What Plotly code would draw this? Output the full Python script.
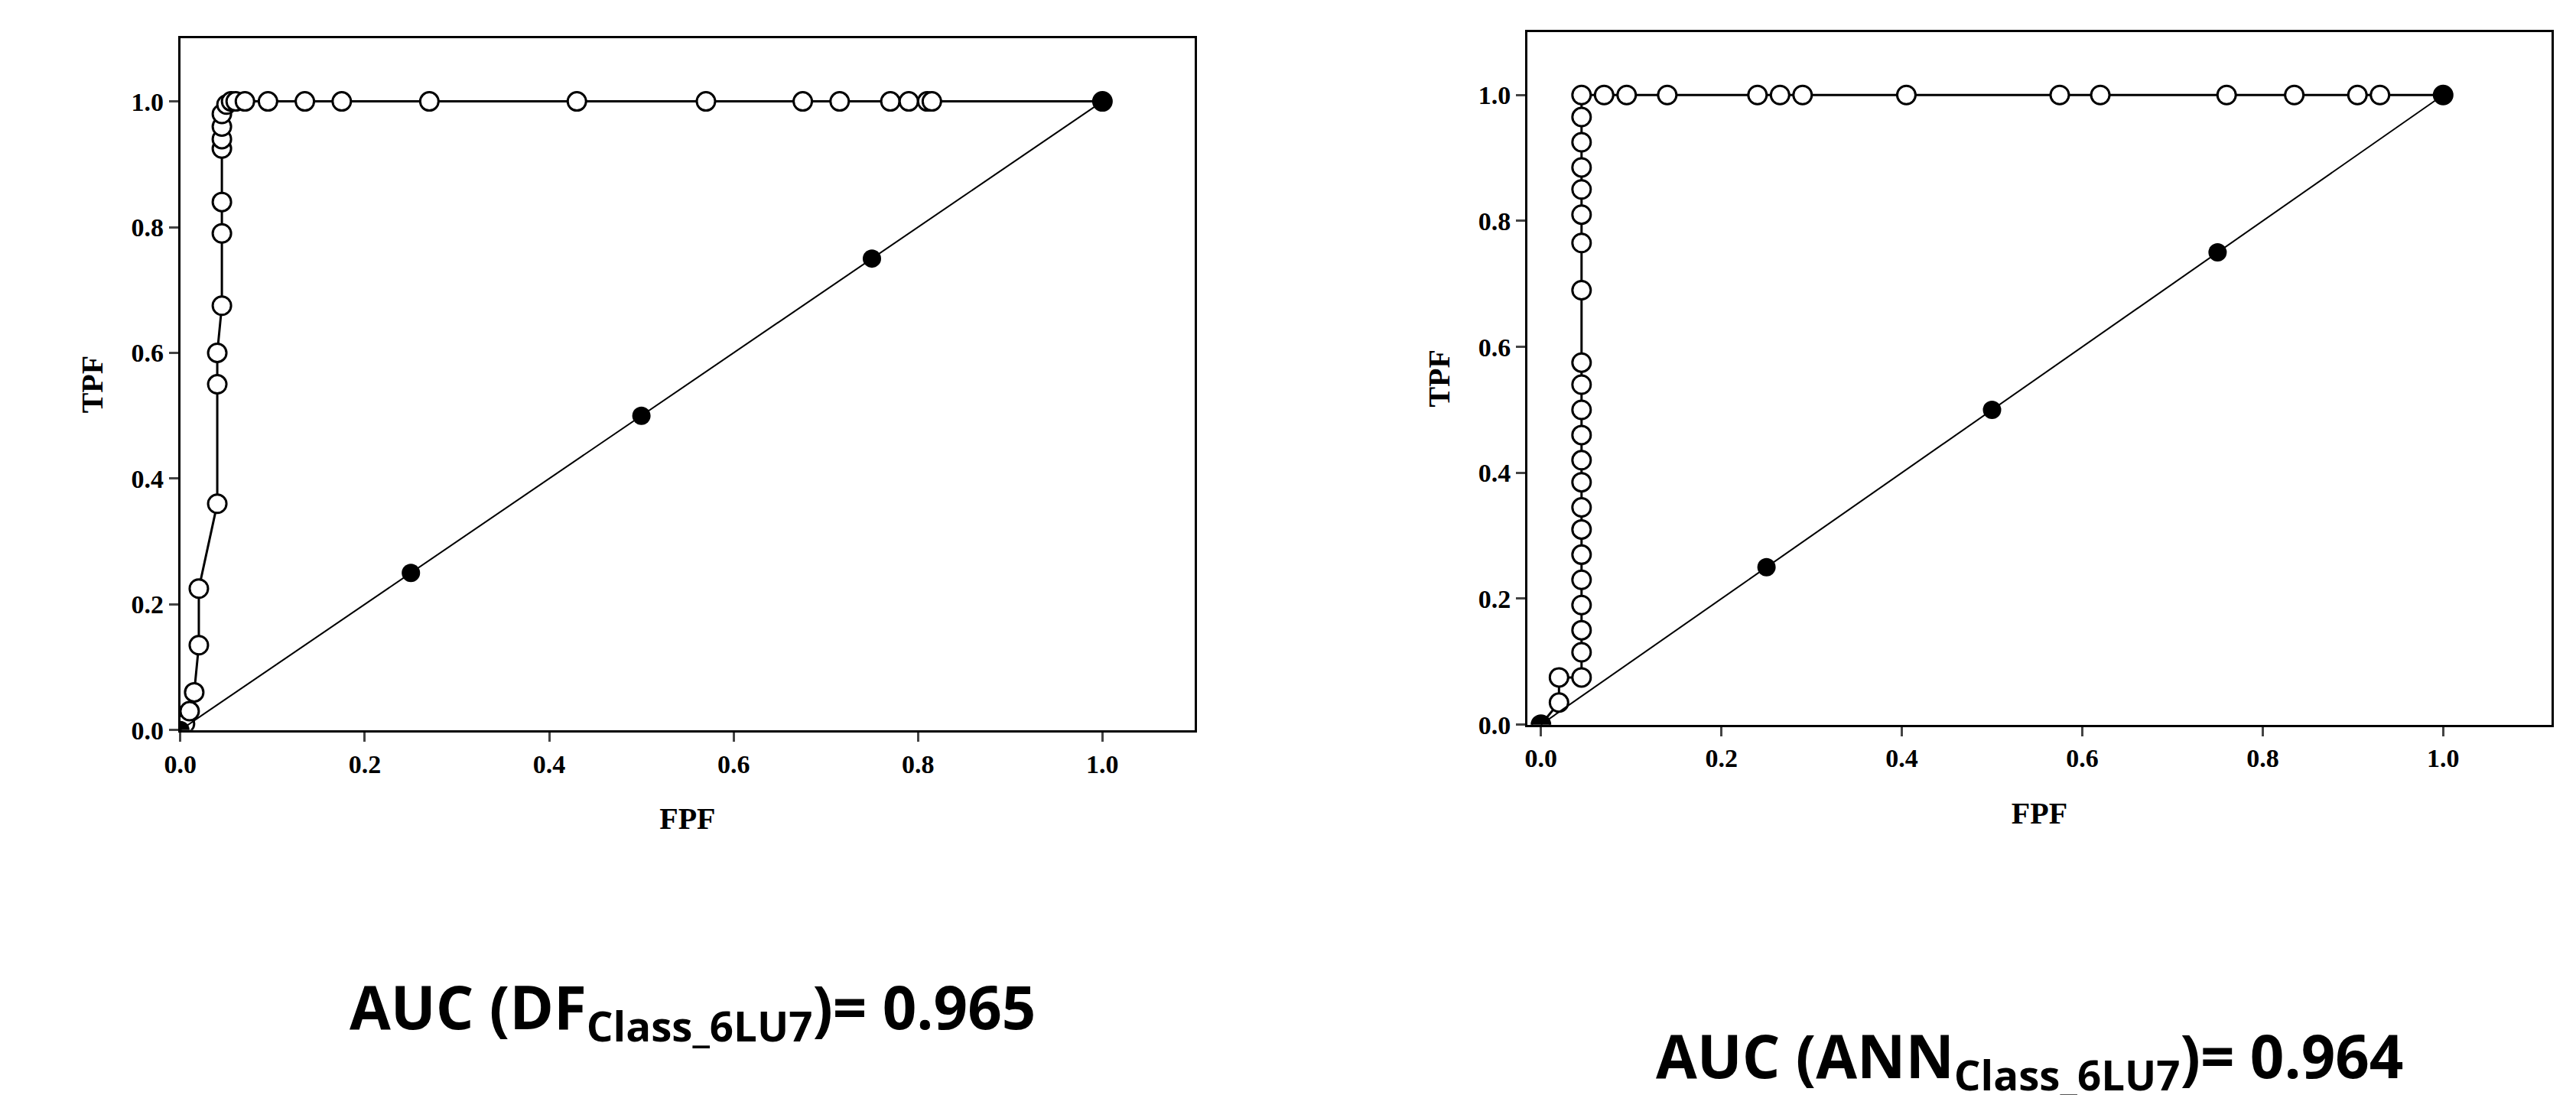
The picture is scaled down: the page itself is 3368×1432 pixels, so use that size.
import plotly.graph_objects as go

left_fpf = [0,0.005,0.01,0.015,0.02,0.02,0.04,0.04,0.04,0.045,0.045,0.045,0.045,0.045,0.045,0.045,0.05,0.055,0.06,0.07,0.095,0.135,0.175,0.27,0.43,0.57,0.675,0.715,0.77,0.79,0.81,0.815,1.0]
left_tpf = [0,0.01,0.03,0.06,0.135,0.225,0.36,0.55,0.6,0.675,0.79,0.84,0.925,0.94,0.96,0.98,0.995,1,1,1,1,1,1,1,1,1,1,1,1,1,1,1,1]
right_fpf = [0,0.02,0.02,0.045] + [0.045]*21 + [0.07,0.095,0.14,0.24,0.265,0.29,0.405,0.575,0.62,0.76,0.835,0.905,0.93,1.0]
right_tpf = [0,0.035,0.075,0.075,0.115,0.15,0.19,0.23,0.27,0.31,0.345,0.385,0.42,0.46,0.5,0.54,0.575,0.69,0.765,0.81,0.85,0.885,0.925,0.965,1.0] + [1.0]*14
diag = [0,0.25,0.5,0.75,1.0]
ticks = [0,0.2,0.4,0.6,0.8,1.0]
tick_labels = ["0.0","0.2","0.4","0.6","0.8","1.0"]
titles = ["AUC (DF<sub>Class_6LU7</sub>)= 0.965", "AUC (ANN<sub>Class_6LU7</sub>)= 0.964"]

fig = go.Figure()
for i,(xs,ys) in enumerate([(left_fpf,left_tpf),(right_fpf,right_tpf)]):
    xa = "x" if i == 0 else "x2"
    ya = "y" if i == 0 else "y2"
    fig.add_trace(go.Scatter(x=xs, y=ys, mode="lines+markers", xaxis=xa, yaxis=ya,
                             line=dict(color="black", width=3),
                             marker=dict(color="white", size=24, line=dict(color="black", width=3)),
                             showlegend=False))
    fig.add_trace(go.Scatter(x=diag, y=diag, mode="lines+markers", xaxis=xa, yaxis=ya,
                             line=dict(color="black", width=2),
                             marker=dict(color="black", size=24), showlegend=False))

tickfont = dict(family="Liberation Serif", size=34, color="black")
titlefont = dict(family="Liberation Serif", size=40, color="black")
btl = ["<b>"+t+"</b>" for t in tick_labels]
common = dict(range=[0,1.1], tickvals=ticks, ticktext=btl,
              showgrid=False, zeroline=False, showline=True, linecolor="black", linewidth=3, mirror=True,
              ticks="outside", ticklen=12, tickwidth=3, tickfont=tickfont)
fig.update_layout(
    width=3368, height=1432, margin=dict(l=0, r=0, t=0, b=0),
    plot_bgcolor="white", paper_bgcolor="white",
    xaxis=dict(domain=[0.0618,0.458], anchor="y", title=dict(text="<b>FPF</b>", font=titlefont, standoff=40), **common),
    yaxis=dict(domain=[0.33,0.97], anchor="x", title=dict(text="<b>TPF</b>", font=titlefont, standoff=25), **common),
    xaxis2=dict(domain=[0.588,0.988], anchor="y2", title=dict(text="<b>FPF</b>", font=titlefont, standoff=40),
                **{**common, "range":[-0.015,1.12]}),
    yaxis2=dict(domain=[0.335,0.976], anchor="x2", title=dict(text="<b>TPF</b>", font=titlefont, standoff=25), **common),
)
fig.add_annotation(text="<b>"+titles[0]+"</b>", x=0.262, y=1-1330/1432, xref="paper", yref="paper",
                   xanchor="center", yanchor="middle",
                   showarrow=False, font=dict(family="Open Sans", size=78, color="black"))
fig.add_annotation(text="<b>"+titles[1]+"</b>", x=0.784, y=1-1395/1432, xref="paper", yref="paper",
                   xanchor="center", yanchor="middle",
                   showarrow=False, font=dict(family="Open Sans", size=78, color="black"))
fig.write_html("out.html")
